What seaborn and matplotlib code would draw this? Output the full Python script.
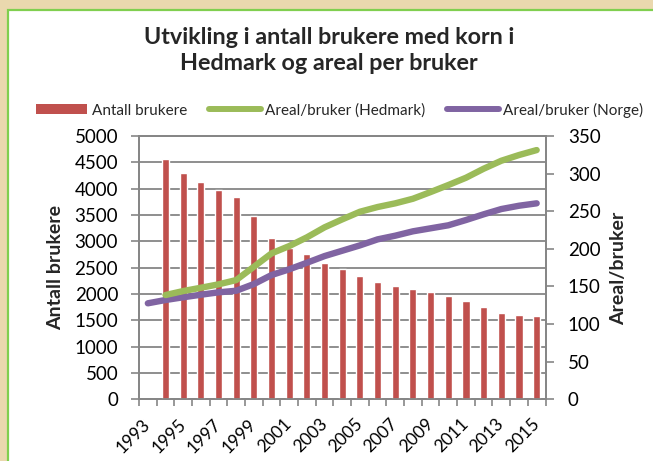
import numpy as np
import pandas as pd
import matplotlib
matplotlib.use("Agg")
import matplotlib.pyplot as plt
import seaborn as sns
from matplotlib.patches import Rectangle, Patch
from matplotlib.lines import Line2D
from matplotlib.ticker import FixedLocator, MultipleLocator

# ---- data ----
years_bar = list(range(1994, 2016))
antall_brukere = [4560, 4290, 4120, 3970, 3840, 3490, 3070, 2865, 2760, 2580,
                  2465, 2342, 2228, 2160, 2090, 2032, 1956, 1861, 1761, 1635,
                  1610, 1582]
years_hedmark = list(range(1994, 2016))
areal_hedmark = [138.6, 143.9, 148.3, 152.8, 158.5, 176.2, 194.0, 203.7, 215.3,
                 228.6, 239.2, 249.3, 255.6, 260.5, 266.6, 275.5, 284.8, 294.5,
                 306.5, 317.1, 324.7, 331.3]
years_norge = list(range(1993, 2016))
areal_norge = [127.6, 132.0, 135.6, 139.0, 142.2, 144.3, 153.2, 165.2, 172.8,
               181.5, 190.4, 197.5, 204.6, 212.6, 217.5, 223.3, 227.3, 231.3,
               238.3, 245.9, 252.9, 257.3, 260.5]
xtick_years = list(range(1993, 2016, 2))

title_lines = ["Utvikling i antall brukere med korn i", "Hedmark og areal per bruker"]
labels = ["Antall brukere", "Areal/bruker (Hedmark)", "Areal/bruker (Norge)"]

RED, GREEN, PURPLE, GRID = "#C0504D", "#9BBB59", "#8064A2", "#868686"

sns.set_theme(style="white")
plt.rcParams["font.family"] = ["Lato", "DejaVu Sans"]

W, H = 653, 461
fig = plt.figure(figsize=(W / 100, H / 100), dpi=100)
fig.patch.set_facecolor("#EAD8AE")
panel = Rectangle((8 / W, -0.05), 1.2, 1.05 - 10 / H, transform=fig.transFigure,
                  facecolor="white", edgecolor="#80CF4F", linewidth=1.6,
                  zorder=-10, figure=fig)
fig.patches.append(panel)

ax = fig.add_axes([139 / W, 1 - 399.3 / H, (545.5 - 139) / W, (399.3 - 136) / H])
ax.set_facecolor("none")

df_bar = pd.DataFrame({"year": years_bar, "antall": antall_brukere})
sns.barplot(data=df_bar, x="year", y="antall", native_scale=True, width=0.4,
            color=RED, saturation=1, ax=ax, zorder=3)

ax.set_xlim(1992.5, 2015.5)
ax.set_ylim(0, 5000)
ax.yaxis.set_major_locator(MultipleLocator(500))
ax.set_axisbelow(True)
ax.yaxis.grid(True, color=GRID, lw=1.3)
ax.xaxis.grid(False)
for s in ax.spines.values():
    s.set_color(GRID)
    s.set_linewidth(1.3)

ax.set_xticks(xtick_years)
ax.set_xticklabels([str(y) for y in xtick_years], rotation=45, ha="right",
                   va="center", rotation_mode="anchor", fontsize=12.5)
ax.xaxis.set_minor_locator(FixedLocator(np.arange(1992.5, 2016, 1)))
ax.tick_params(axis="x", which="major", length=0, pad=16, labelcolor="black")
ax.tick_params(axis="x", which="minor", bottom=True, length=5, width=1.2, color=GRID)
ax.tick_params(axis="y", left=True, length=6, width=1.2, color=GRID, pad=9,
               labelsize=13.5, labelcolor="black")
ax.set_xlabel("")
ax.set_ylabel("")

ax2 = ax.twinx()
sns.lineplot(x=years_norge, y=areal_norge, ax=ax2, color=PURPLE, lw=4.6,
             solid_capstyle="round", solid_joinstyle="round")
sns.lineplot(x=years_hedmark, y=areal_hedmark, ax=ax2, color=GREEN, lw=4.6,
             solid_capstyle="round", solid_joinstyle="round")
ax2.set_ylim(0, 350)
ax2.yaxis.set_major_locator(MultipleLocator(50))
ax2.set_xlim(1992.5, 2015.5)
ax2.grid(False)
for s in ax2.spines.values():
    s.set_color(GRID)
    s.set_linewidth(1.3)
ax2.tick_params(axis="y", right=True, length=6, width=1.2, color=GRID, pad=10,
                labelsize=13.5, labelcolor="black")
ax2.set_ylabel("")

fig.text(56 / W, 1 - 268 / H, "Antall brukere", rotation=90, ha="center", va="center",
         fontsize=14, fontweight="bold")
fig.text(619 / W, 1 - 268 / H, "Areal/bruker", rotation=90, ha="center", va="center",
         fontsize=14, fontweight="bold")

fig.text(329 / W, 1 - 44 / H, title_lines[0], ha="center", va="baseline",
         fontsize=16.8, fontweight="bold")
fig.text(329 / W, 1 - 70 / H, title_lines[1], ha="center", va="baseline",
         fontsize=16.8, fontweight="bold")

handles = [Patch(facecolor=RED, edgecolor="none"),
           Line2D([], [], color=GREEN, lw=4.3, solid_capstyle="round"),
           Line2D([], [], color=PURPLE, lw=4.3, solid_capstyle="round")]
fig.legend(handles, labels, loc="center", bbox_to_anchor=(339.5 / W, 1 - 110 / H),
           ncol=3, frameon=False, fontsize=11, handlelength=3.4, handletextpad=0.3,
           columnspacing=1.4, handleheight=0.6)

fig.savefig("out.png", dpi=100, facecolor=fig.get_facecolor())
